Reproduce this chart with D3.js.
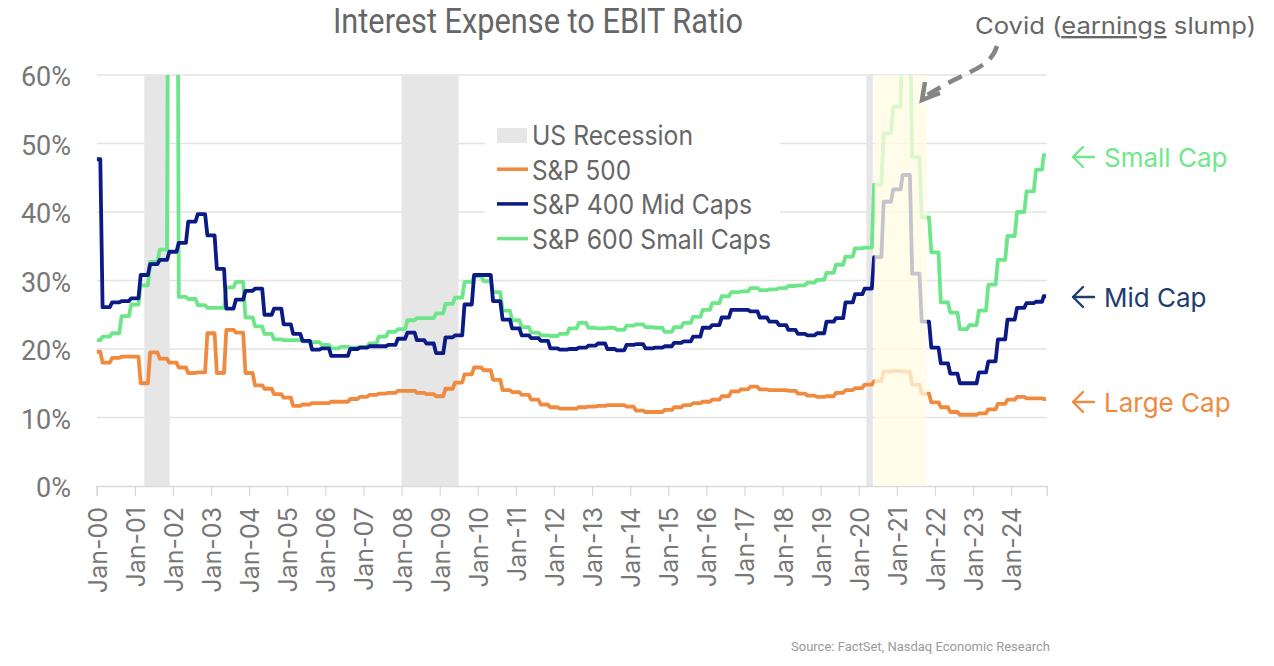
<!DOCTYPE html>
<html><head><meta charset="utf-8">
<script src="https://cdn.jsdelivr.net/npm/d3@7"></script>
<style>body{margin:0;background:#fff}</style>
</head><body>
<svg id="c" width="1274" height="666"></svg>
<script>
// ---- DATA (quarterly, Jan-2000 .. Oct-2024, plus Dec-2024) ----
const largeCap = [19.6,18.0,18.7,18.9, 18.9,15.0,19.5,18.6, 18.0,17.3,16.5,16.6, 22.3,16.5,22.8,22.4,
  16.5,14.7,14.2,13.4, 12.9,11.7,11.9,12.1, 12.1,12.3,12.3,12.7, 13.0,13.3,13.5,13.6,
  13.9,13.9,13.6,13.4, 13.1,14.2,15.1,16.3, 17.3,16.9,15.5,14.0, 13.7,13.3,12.6,11.9,
  11.5,11.3,11.3,11.5, 11.6,11.7,11.8,11.8, 11.6,11.0,10.8,10.8, 11.1,11.5,11.8,12.1,
  12.3,12.6,13.1,13.8, 14.1,14.5,14.1,14.0, 14.0,13.9,13.5,13.2, 13.0,13.1,13.6,14.0,
  14.3,14.8,15.3,16.7, 16.8,16.7,14.8,13.5, 12.2,11.5,10.8,10.4, 10.4,10.6,11.2,12.0,
  12.6,13.0,12.8,12.8, 12.7];
const midCap = [47.7,26.1,26.8,27.0, 27.4,30.8,32.4,33.0, 34.2,35.5,38.6,39.7, 36.6,31.7,25.9,27.2,
  28.5,28.8,25.0,25.9, 23.6,22.2,21.2,19.9, 20.1,19.0,19.0,20.0, 20.2,20.4,20.4,20.6,
  21.5,22.4,21.3,20.8, 19.4,21.7,22.0,26.5, 30.8,30.8,27.0,24.3, 23.0,22.0,21.6,21.2,
  20.1,19.9,20.0,20.2, 20.5,20.8,20.0,19.8, 20.6,20.7,20.1,20.2, 20.4,20.9,21.1,21.8,
  23.1,23.5,24.6,25.7, 25.7,25.5,24.6,24.0, 23.5,22.8,22.2,22.0, 22.3,24.0,24.5,26.8,
  28.0,28.8,33.4,41.5, 43.3,45.4,31.0,24.0, 20.2,17.9,16.4,15.0, 15.0,16.6,18.2,21.4,
  24.3,26.0,26.7,26.9, 27.7];
const smallCap = [21.3,21.8,22.3,24.8, 26.5,29.3,32.7,34.5, 130,27.6,27.3,26.4, 26.0,26.0,29.0,29.8,
  24.6,23.3,22.2,21.4, 21.3,21.3,21.1,21.0, 20.6,20.1,20.3,20.2, 20.3,20.8,21.8,22.5,
  22.9,24.2,24.5,24.5, 25.2,26.6,27.5,29.8, 30.6,29.9,28.3,25.6, 24.2,23.2,22.4,22.0,
  21.9,22.2,23.0,23.8, 23.1,23.0,23.1,22.8, 23.4,23.6,23.2,23.1, 22.5,23.2,23.8,24.7,
  25.7,26.7,27.7,28.3, 28.4,28.9,28.6,28.7, 28.9,29.2,29.3,29.7, 30.1,31.1,32.3,33.5,
  34.7,34.8,44.0,51.5, 55.4,68.0,48.0,39.2, 34.1,26.8,25.3,22.9, 23.5,25.6,29.4,33.0,
  36.5,40.0,43.0,46.2, 48.3];
const recessions = [["2001-04-01","2001-12-01"],["2008-01-01","2009-07-01"],["2020-03-15","2020-05-15"]];
const covidPeriod = ["2020-06-01","2021-10-15"];
const yTicks = [0,10,20,30,40,50,60];
const seriesNames = ["S&P 500","S&P 400 Mid Caps","S&P 600 Small Caps"];
const seriesColors = ["#f08a3e","#0b1a84","#6de68a"];
const endLabels = ["Large Cap","Mid Cap","Small Cap"];
const endLabelColors = ["#f08a3e","#1f3d6e","#6ee88a"];

// custom "ramp step" curve: flat, short riser around the midpoint, flat
function RampStep(context){ this._context = context; }
RampStep.prototype = {
  areaStart(){}, areaEnd(){},
  lineStart(){ this._x = this._y = NaN; this._point = 0; },
  lineEnd(){},
  point(x, y){
    x = +x; y = +y;
    if (this._point === 0){ this._point = 1; this._context.moveTo(x,y); }
    else {
      const dx = x - this._x;
      this._context.lineTo(this._x + dx*0.38, this._y);
      this._context.lineTo(this._x + dx*0.62, y);
      this._context.lineTo(x, y);
    }
    this._x = x; this._y = y;
  }
};
const curveRampStep = ctx => new RampStep(ctx);

// dates
const parse = d3.timeParse("%Y-%m-%d");
const dates = d3.timeMonth.every(3).range(new Date(2000,0,1), new Date(2025,0,1));
dates.push(new Date(2024,11,1));
const xTickDates = d3.timeYear.range(new Date(2000,0,1), new Date(2025,0,1));

const svg = d3.select("#c");
const x = d3.scaleTime().domain([new Date(2000,0,1), new Date(2024,11,7)]).range([96.7, 1046.7]);
const y = d3.scaleLinear().domain([0,60]).range([486, 75]);

svg.append("defs").append("clipPath").attr("id","clip")
  .append("rect").attr("x",96.7).attr("y",75).attr("width",950).attr("height",411);

// gridlines
svg.append("g").selectAll("line").data(yTicks.filter(d=>d>0)).join("line")
  .attr("x1",96.7).attr("x2",1046.7).attr("y1",d=>y(d)).attr("y2",d=>y(d))
  .attr("stroke","#e3e3e3").attr("stroke-width",1.5);

// recession bands
svg.append("g").selectAll("rect").data(recessions).join("rect")
  .attr("x",d=>x(parse(d[0]))).attr("width",d=>x(parse(d[1]))-x(parse(d[0])))
  .attr("y",75).attr("height",411).attr("fill","#e6e6e6");

// x axis
const xAxis = d3.axisBottom(x).tickValues(xTickDates).tickSize(10).tickFormat("");
const gx = svg.append("g").attr("transform","translate(0,486)").call(xAxis);
gx.select(".domain").attr("stroke","#d9d9d9").attr("stroke-width",1.5);
gx.selectAll(".tick line").attr("stroke","#d9d9d9").attr("stroke-width",1.2);
svg.append("g").selectAll("text").data(xTickDates).join("text")
  .attr("transform",d=>`translate(${x(d)+10},507) rotate(-90)`)
  .attr("text-anchor","end")
  .attr("font-family","Inter, 'Noto Sans', sans-serif").attr("font-size",25).attr("fill","#777")
  .text(d3.timeFormat("Jan-%y"));

// y labels
svg.append("g").selectAll("text").data(yTicks).join("text")
  .attr("x",71).attr("y",d=>y(d)+11).attr("text-anchor","end")
  .attr("font-family","Roboto, sans-serif").attr("font-size",27).attr("fill","#777")
  .text(d=>d+"%");

// lines
const series = [largeCap, midCap, smallCap];
const line = d3.line().curve(curveRampStep).x((d,i)=>x(dates[i])).y(d=>y(d));
const lg = svg.append("g").attr("clip-path","url(#clip)");
[2,1,0].forEach(k=>{
  lg.append("path").datum(series[k]).attr("d",line).attr("fill","none")
    .attr("stroke",seriesColors[k]).attr("stroke-width",3.8).attr("stroke-linejoin","round");
});

// covid overlay
svg.append("rect").attr("x",x(parse(covidPeriod[0]))).attr("y",75)
  .attr("width",x(parse(covidPeriod[1]))-x(parse(covidPeriod[0]))).attr("height",411)
  .attr("fill","#fffbe4").attr("opacity",0.76);

// title
svg.append("text").attr("x",538).attr("y",33).attr("text-anchor","middle")
  .attr("font-family","Roboto, sans-serif").attr("font-size",35).attr("fill","#666")
  .attr("textLength",410).attr("lengthAdjust","spacingAndGlyphs")
  .text("Interest Expense to EBIT Ratio");

// legend
svg.append("rect").attr("x",485).attr("y",105).attr("width",295).attr("height",152).attr("fill","#fff");
const legItems = [{name:"US Recession", type:"rect", color:"#e6e6e6", w:161}]
  .concat(seriesNames.map((n,i)=>({name:n,type:"line",color:seriesColors[i],w:[99,220,239][i]})));
const leg = svg.append("g").selectAll("g").data(legItems).join("g")
  .attr("transform",(d,i)=>`translate(0,${145+i*34.7})`);
leg.filter(d=>d.type==="rect").append("rect").attr("x",497).attr("y",-17).attr("width",30).attr("height",15).attr("fill",d=>d.color);
leg.filter(d=>d.type==="line").append("line").attr("x1",497).attr("x2",528).attr("y1",-10.5).attr("y2",-10.5)
  .attr("stroke",d=>d.color).attr("stroke-width",3.5);
leg.append("text").attr("x",532).attr("y",0)
  .attr("font-family","Inter, 'Noto Sans', sans-serif").attr("font-size",27).attr("fill","#666")
  .attr("textLength",d=>d.w).attr("lengthAdjust","spacingAndGlyphs")
  .text(d=>d.name);

// end labels
const labelY = [402, 297, 157];
endLabels.forEach((t,i)=>{
  const cy = labelY[i];
  svg.append("path").attr("d",`M1094,${cy} H1073 M1083,${cy-10} L1073,${cy} L1083,${cy+10}`)
    .attr("fill","none").attr("stroke",endLabelColors[i]).attr("stroke-width",2.4).attr("stroke-linecap","round").attr("stroke-linejoin","round");
  svg.append("text").attr("x",1104).attr("y",cy+9.7)
    .attr("font-family","Inter, 'Noto Sans', sans-serif").attr("font-size",26).attr("fill",endLabelColors[i])
    .text(t);
});

// covid annotation
const ct = svg.append("text").attr("x",975).attr("y",34)
  .attr("font-family","Inter, 'Noto Sans', sans-serif").attr("font-size",23.5).attr("fill","#666")
  .attr("textLength",281).attr("lengthAdjust","spacingAndGlyphs");
ct.append("tspan").text("Covid (");
ct.append("tspan").attr("text-decoration","underline").text("earnings");
ct.append("tspan").text(" slump)");
svg.append("path").attr("d","M997,46 C990,70 962,72 926,96")
  .attr("fill","none").attr("stroke","#858585").attr("stroke-width",4.5).attr("stroke-dasharray","15,9");
svg.append("path").attr("d","M925,82 L922,100 L940,93")
  .attr("fill","none").attr("stroke","#858585").attr("stroke-width",4.5).attr("stroke-linejoin","miter");

// source
svg.append("text").attr("x",1050).attr("y",651).attr("text-anchor","end")
  .attr("font-family","Roboto, sans-serif").attr("font-size",13).attr("fill","#9a9a9a")
  .attr("textLength",259).attr("lengthAdjust","spacingAndGlyphs")
  .text("Source: FactSet, Nasdaq Economic Research");
</script>
</body></html>
